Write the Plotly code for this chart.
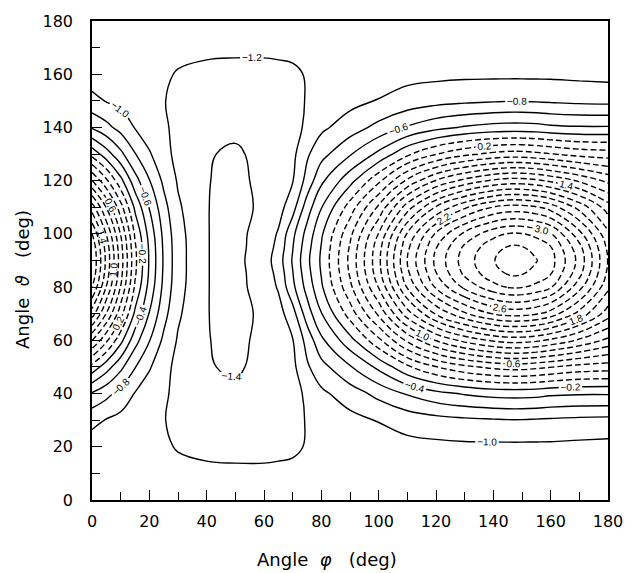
import plotly.graph_objects as go

# Angle phi (deg) - grid columns
phi = [0, 5, 10, 15, 20, 25, 30, 40, 50, 60, 65, 70, 75, 80, 90, 100, 110,
       120, 130, 140, 145, 150, 155, 160, 170, 180]
# Angle theta (deg) - grid rows from 0 to 90 (field is symmetric about 90)
theta_half = [0, 10, 20, 30, 40, 50, 60, 70, 80, 85, 90]

z_t00 = [-1.10, -1.10, -1.10, -1.10, -1.10, -1.10, -1.10, -1.10, -1.10, -1.10, -1.10, -1.10, -1.10,
         -1.10, -1.10, -1.10, -1.10, -1.10, -1.10, -1.10, -1.10, -1.10, -1.10, -1.10, -1.10, -1.10]
z_t10 = [-1.11, -1.12, -1.13, -1.14, -1.14, -1.15, -1.16, -1.17, -1.175, -1.175, -1.17, -1.165, -1.15,
         -1.14, -1.12, -1.11, -1.10, -1.10, -1.10, -1.10, -1.10, -1.10, -1.10, -1.10, -1.10, -1.11]
z_t20 = [-1.09, -1.11, -1.13, -1.15, -1.18, -1.18, -1.21, -1.235, -1.24, -1.24, -1.235, -1.225, -1.19,
         -1.16, -1.12, -1.09, -1.06, -1.05, -1.04, -1.04, -1.04, -1.04, -1.04, -1.04, -1.05, -1.06]
z_t30 = [-0.95, -1.01, -1.06, -1.12, -1.17, -1.19, -1.26, -1.31, -1.31, -1.29, -1.28, -1.25, -1.19,
         -1.14, -1.06, -0.99, -0.92, -0.87, -0.84, -0.82, -0.81, -0.81, -0.82, -0.83, -0.85, -0.86]
z_t40 = [-0.62, -0.74, -0.87, -1.01, -1.11, -1.16, -1.27, -1.35, -1.37, -1.32, -1.30, -1.26, -1.17,
         -1.04, -0.90, -0.74, -0.58, -0.46, -0.38, -0.33, -0.32, -0.32, -0.33, -0.36, -0.38, -0.38]
z_t50 = [-0.07, -0.31, -0.55, -0.79, -0.98, -1.13, -1.26, -1.39, -1.42, -1.36, -1.31, -1.25, -1.03,
         -0.87, -0.62, -0.35, -0.04, 0.19, 0.35, 0.45, 0.48, 0.48, 0.45, 0.41, 0.33, 0.30]
z_t60 = [0.61, 0.24, -0.14, -0.52, -0.79, -1.04, -1.22, -1.395, -1.43, -1.37, -1.31, -1.21, -0.93,
         -0.64, -0.27, 0.15, 0.64, 1.01, 1.26, 1.43, 1.48, 1.48, 1.44, 1.36, 1.17, 0.95]
z_t70 = [1.30, 0.79, 0.28, -0.24, -0.61, -0.93, -1.17, -1.395, -1.45, -1.37, -1.28, -1.08, -0.70,
         -0.41, 0.09, 0.64, 1.31, 1.82, 2.17, 2.41, 2.47, 2.47, 2.42, 2.31, 1.93, 1.50]
z_t80 = [1.81, 1.19, 0.59, -0.03, -0.47, -0.85, -1.13, -1.395, -1.45, -1.33, -1.18, -0.85, -0.53,
         -0.23, 0.35, 1.01, 1.82, 2.43, 2.85, 3.13, 3.21, 3.21, 3.14, 3.02, 2.47, 1.85]
z_t85 = [1.95, 1.31, 0.67, 0.03, -0.43, -0.83, -1.12, -1.395, -1.45, -1.32, -1.14, -0.81, -0.48,
         -0.19, 0.42, 1.12, 1.95, 2.59, 3.04, 3.33, 3.41, 3.41, 3.34, 3.21, 2.66, 1.95]
z_t90 = [1.99, 1.35, 0.70, 0.05, -0.42, -0.82, -1.12, -1.395, -1.45, -1.30, -1.10, -0.78, -0.45,
         -0.17, 0.45, 1.15, 2.01, 2.65, 3.10, 3.39, 3.48, 3.48, 3.41, 3.28, 2.73, 1.99]

z_half = [z_t00, z_t10, z_t20, z_t30, z_t40, z_t50, z_t60, z_t70, z_t80, z_t85, z_t90]
# mirror about theta = 90 deg
theta = theta_half + [180 - t for t in theta_half[-2::-1]]
z = z_half + z_half[-2::-1]

step = 0.2
lab_font = dict(family="Liberation Sans", size=10, color="black")


def add_levels(fig, start, end, size, dash, labels):
    fig.add_trace(go.Contour(
        x=phi, y=theta, z=z,
        contours=dict(coloring="none", start=start, end=end, size=size,
                      showlabels=labels, labelfont=lab_font, labelformat=".1f"),
        line=dict(color="black", width=1.4, dash=dash, smoothing=1.2),
        showscale=False, hoverinfo="skip",
    ))


fig = go.Figure()
# negative levels: solid, labelled
add_levels(fig, -1.4, -0.2, step, "solid", True)
# zero / positive levels: dashed, every other one labelled
add_levels(fig, 0.2, 3.0, 2 * step, "6px,3px", True)
add_levels(fig, 0.0, 3.2, 2 * step, "6px,3px", False)
add_levels(fig, 3.4, 3.4, 2 * step, "6px,3px", False)

axis_common = dict(
    range=[0, 180], showline=True, linecolor="black", linewidth=1.5, mirror=True,
    ticks="inside", ticklen=10, tickwidth=1.3, tickcolor="black",
    dtick=20, tick0=0, showgrid=False, zeroline=False,
    tickfont=dict(family="DejaVu Sans", size=16, color="black"),
    minor=dict(ticks="inside", ticklen=8, tickwidth=1.3, tickcolor="black", dtick=10, showgrid=False),
)

fig.update_layout(
    width=635, height=573,
    margin=dict(l=92, r=20, t=18, b=73),
    paper_bgcolor="white", plot_bgcolor="white",
    showlegend=False,
    xaxis=dict(**axis_common, ticklabelstandoff=6),
    yaxis=dict(**axis_common, ticklabelstandoff=14),
    annotations=[
        dict(text="Angle  <i>φ</i>   (deg)", xref="paper", yref="paper", x=0.455, y=-0.125,
             xanchor="center", yanchor="middle", showarrow=False,
             font=dict(family="DejaVu Sans", size=18, color="black")),
        dict(text="Angle  <i>ϑ</i>   (deg)", xref="paper", yref="paper", x=-0.135, y=0.46,
             xanchor="center", yanchor="middle", showarrow=False, textangle=-90,
             font=dict(family="DejaVu Sans", size=18, color="black")),
    ],
)

fig.write_html("out.html")
